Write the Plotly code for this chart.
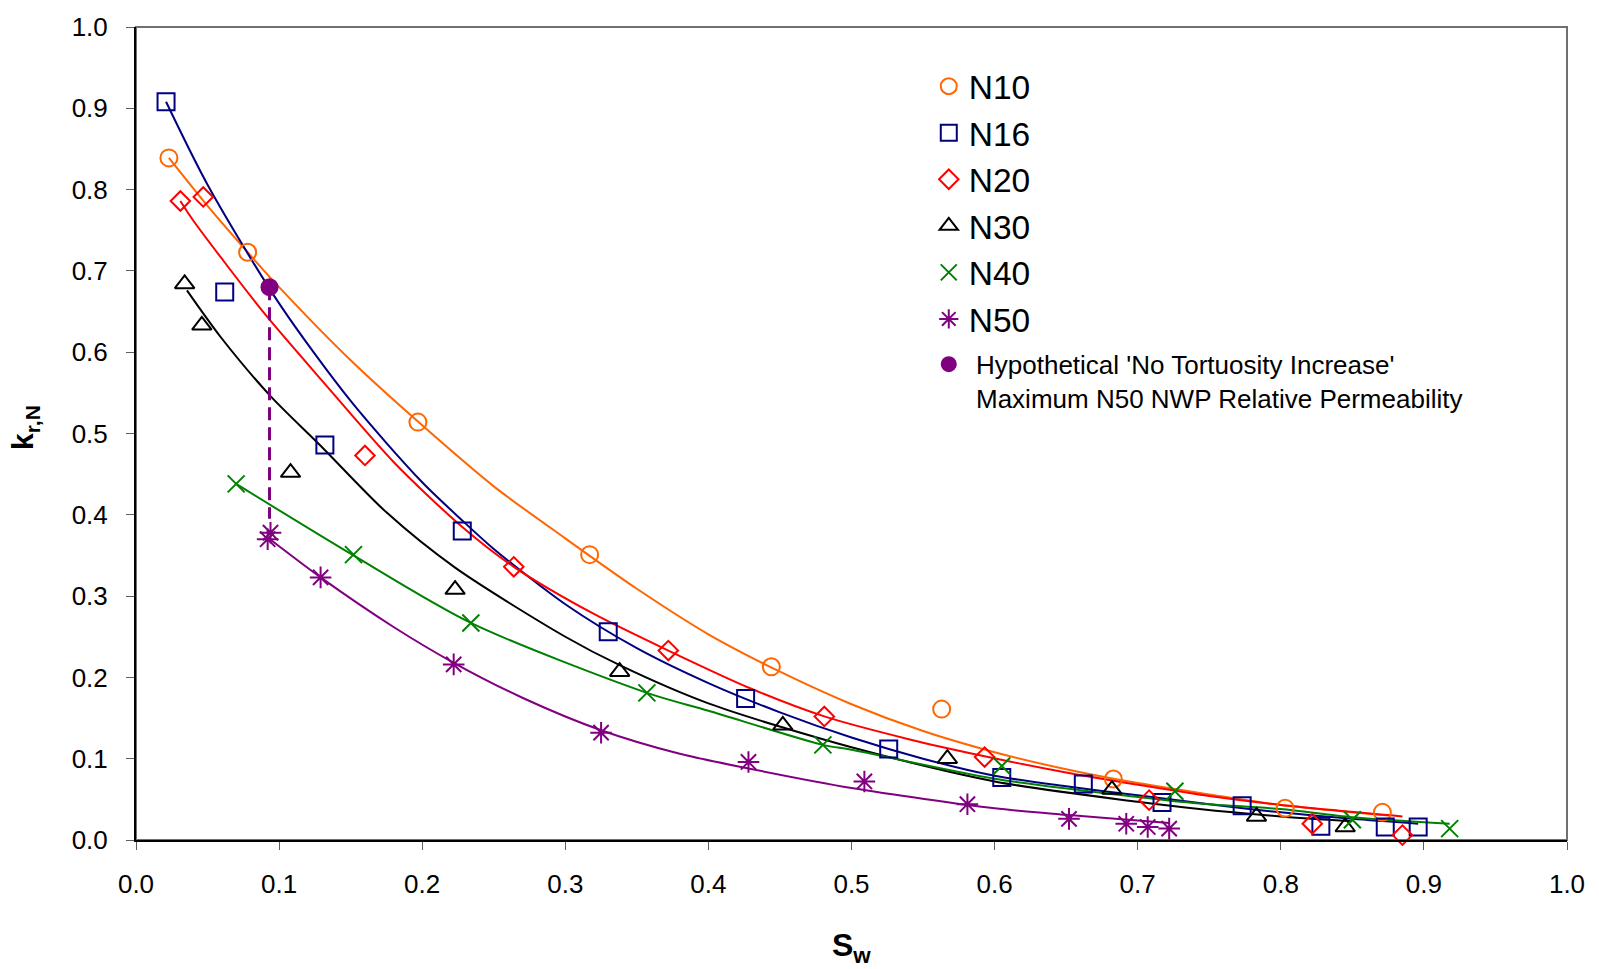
import plotly.graph_objects as go

# ---- measured relative permeability data (Sw, kr) ----
n10_sw = [0.023, 0.078, 0.197, 0.317, 0.444, 0.563, 0.683, 0.803, 0.871]
n10_kr = [0.839, 0.723, 0.514, 0.351, 0.213, 0.161, 0.075, 0.039, 0.034]

n16_sw = [0.021, 0.062, 0.132, 0.228, 0.330, 0.426, 0.526, 0.605, 0.662, 0.717, 0.773, 0.828, 0.873, 0.896]
n16_kr = [0.908, 0.674, 0.486, 0.380, 0.256, 0.174, 0.112, 0.077, 0.069, 0.046, 0.042, 0.017, 0.016, 0.016]

n20_sw = [0.031, 0.047, 0.160, 0.264, 0.372, 0.481, 0.593, 0.708, 0.822, 0.885]
n20_kr = [0.786, 0.791, 0.473, 0.336, 0.233, 0.152, 0.102, 0.049, 0.020, 0.006]

n30_sw = [0.034, 0.046, 0.108, 0.223, 0.338, 0.452, 0.567, 0.682, 0.783, 0.845]
n30_kr = [0.684, 0.633, 0.452, 0.308, 0.207, 0.141, 0.100, 0.062, 0.029, 0.016]

n40_sw = [0.070, 0.152, 0.234, 0.357, 0.480, 0.605, 0.726, 0.850, 0.918]
n40_kr = [0.438, 0.351, 0.267, 0.181, 0.117, 0.091, 0.060, 0.025, 0.014]

n50_sw = [0.092, 0.094, 0.129, 0.222, 0.325, 0.428, 0.509, 0.581, 0.652, 0.692, 0.707, 0.722]
n50_kr = [0.370, 0.378, 0.323, 0.216, 0.132, 0.096, 0.072, 0.044, 0.026, 0.020, 0.016, 0.014]

# hypothetical 'no tortuosity increase' point and the drop to the N50 level
hypo_sw = 0.0933
hypo_kr = 0.680
hypo_drop_kr = 0.395

# ---- trend curves (Sw, kr) ----
fit10_sw = [0.023, 0.05, 0.078, 0.1, 0.15, 0.2, 0.25, 0.3, 0.35, 0.4, 0.45, 0.5, 0.55, 0.6, 0.65, 0.7, 0.75, 0.8, 0.875]
fit10_kr = [0.839, 0.780, 0.723, 0.680, 0.590, 0.510, 0.435, 0.371, 0.309, 0.253, 0.207, 0.167, 0.134, 0.108, 0.087, 0.070, 0.056, 0.043, 0.030]

fit16_sw = [0.021, 0.05, 0.1, 0.15, 0.2, 0.228, 0.25, 0.3, 0.35, 0.4, 0.45, 0.5, 0.55, 0.6, 0.65, 0.7, 0.75, 0.8, 0.85, 0.896]
fit16_kr = [0.908, 0.806, 0.660, 0.540, 0.440, 0.393, 0.358, 0.290, 0.236, 0.193, 0.157, 0.126, 0.100, 0.079, 0.066, 0.055, 0.044, 0.034, 0.026, 0.020]

fit20_sw = [0.031, 0.04, 0.06, 0.09, 0.13, 0.18, 0.228, 0.264, 0.32, 0.372, 0.43, 0.481, 0.54, 0.593, 0.65, 0.7, 0.75, 0.8, 0.885]
fit20_kr = [0.786, 0.762, 0.715, 0.647, 0.565, 0.465, 0.385, 0.336, 0.278, 0.233, 0.186, 0.152, 0.124, 0.103, 0.083, 0.068, 0.054, 0.043, 0.029]

fit30_sw = [0.0356, 0.059, 0.094, 0.129, 0.175, 0.223, 0.3, 0.338, 0.4, 0.5, 0.6, 0.7, 0.743, 0.8, 0.85]
fit30_kr = [0.676, 0.619, 0.546, 0.485, 0.403, 0.335, 0.250, 0.215, 0.168, 0.114, 0.072, 0.047, 0.038, 0.029, 0.023]

fit40_sw = [0.070, 0.152, 0.234, 0.357, 0.4, 0.48, 0.5, 0.6, 0.7, 0.743, 0.8, 0.85, 0.918]
fit40_kr = [0.438, 0.350, 0.267, 0.181, 0.159, 0.117, 0.111, 0.0754, 0.053, 0.045, 0.038, 0.028, 0.020]

fit50_sw = [0.092, 0.129, 0.18, 0.222, 0.27, 0.325, 0.38, 0.428, 0.5, 0.6, 0.65, 0.7, 0.722]
fit50_kr = [0.372, 0.323, 0.262, 0.218, 0.175, 0.135, 0.106, 0.088, 0.064, 0.039, 0.031, 0.024, 0.021]

x_ticks = [round(0.1 * i, 1) for i in range(11)]
y_ticks = [round(0.1 * i, 1) for i in range(11)]

FONT = "Liberation Sans, Arial, sans-serif"

series = [
    ("N10", n10_sw, n10_kr, fit10_sw, fit10_kr, "#FF6600", "circle-open", 17),
    ("N16", n16_sw, n16_kr, fit16_sw, fit16_kr, "#000080", "square-open", 17),
    ("N20", n20_sw, n20_kr, fit20_sw, fit20_kr, "#FF0000", "diamond-open", 15),
    ("N30", n30_sw, n30_kr, fit30_sw, fit30_kr, "#000000", "triangle-up-open", 17),
    ("N40", n40_sw, n40_kr, fit40_sw, fit40_kr, "#008000", "x-thin-open", 17),
    ("N50", n50_sw, n50_kr, fit50_sw, fit50_kr, "#800080", "asterisk-open", 18),
]

fig = go.Figure()

# trend curves first so the symbols sit on top
for name, sw, kr, fsw, fkr, color, symbol, size in series:
    fig.add_trace(go.Scatter(
        x=fsw, y=fkr, mode="lines", line=dict(color=color, width=2, shape="spline", smoothing=0.8),
        showlegend=False, hoverinfo="skip",
    ))

fig.add_trace(go.Scatter(
    x=[hypo_sw, hypo_sw], y=[hypo_kr, hypo_drop_kr], mode="lines",
    line=dict(color="#800080", width=3, dash="13px,7px"), showlegend=False, hoverinfo="skip",
))

for name, sw, kr, fsw, fkr, color, symbol, size in series:
    fig.add_trace(go.Scatter(
        x=sw, y=kr, mode="markers", name=name, legend="legend",
        marker=dict(symbol=symbol, size=size, color=color, line=dict(color=color, width=2)),
        cliponaxis=False,
    ))

fig.add_trace(go.Scatter(
    x=[hypo_sw], y=[hypo_kr], mode="markers", legend="legend2",
    name="&nbsp;Hypothetical 'No Tortuosity Increase'<br>&nbsp;Maximum N50 NWP Relative Permeability",
    marker=dict(symbol="circle", size=18, color="#800080"),
    cliponaxis=False,
))

axis_common = dict(
    range=[0, 1], showgrid=False, zeroline=False, showline=True, linecolor="#000000", linewidth=2,
    ticks="outside", ticklen=8, tickwidth=1, tickcolor="#606060", tickformat=".1f",
    tickfont=dict(family=FONT, size=26, color="#000000"),
)

fig.update_layout(
    width=1599, height=969,
    margin=dict(l=136, r=32, t=22, b=129),
    paper_bgcolor="white", plot_bgcolor="white",
    font=dict(family=FONT, color="#000000"),
    xaxis=dict(tickvals=x_ticks, ticklabelstandoff=12, **axis_common),
    yaxis=dict(tickvals=y_ticks, ticklabelstandoff=13, **axis_common),
    legend=dict(
        x=0.554, y=0.962, xanchor="left", yanchor="top",
        font=dict(family=FONT, size=33.5, color="#000000"),
        bgcolor="rgba(0,0,0,0)", borderwidth=0, itemsizing="trace",
    ),
    legend2=dict(
        x=0.554, y=0.614, xanchor="left", yanchor="top", valign="top",
        font=dict(family=FONT, size=26, color="#000000"),
        bgcolor="rgba(0,0,0,0)", borderwidth=0, itemsizing="trace",
    ),
    shapes=[dict(
        type="rect", xref="paper", yref="paper", x0=0, x1=1, y0=0, y1=1,
        line=dict(color="#707070", width=2), layer="below",
    )],
    annotations=[
        dict(text="<b>k<sub>r,N</sub></b>", xref="paper", yref="paper", x=-0.0775, y=0.507,
             textangle=-90, showarrow=False, xanchor="center", yanchor="middle",
             font=dict(family=FONT, size=30, color="#000000")),
        dict(text="<b>S<sub>w</sub></b>", xref="paper", yref="paper", x=0.5, y=-0.132,
             showarrow=False, xanchor="center", yanchor="middle",
             font=dict(family=FONT, size=32, color="#000000")),
    ],
)

fig.write_html("out.html")
